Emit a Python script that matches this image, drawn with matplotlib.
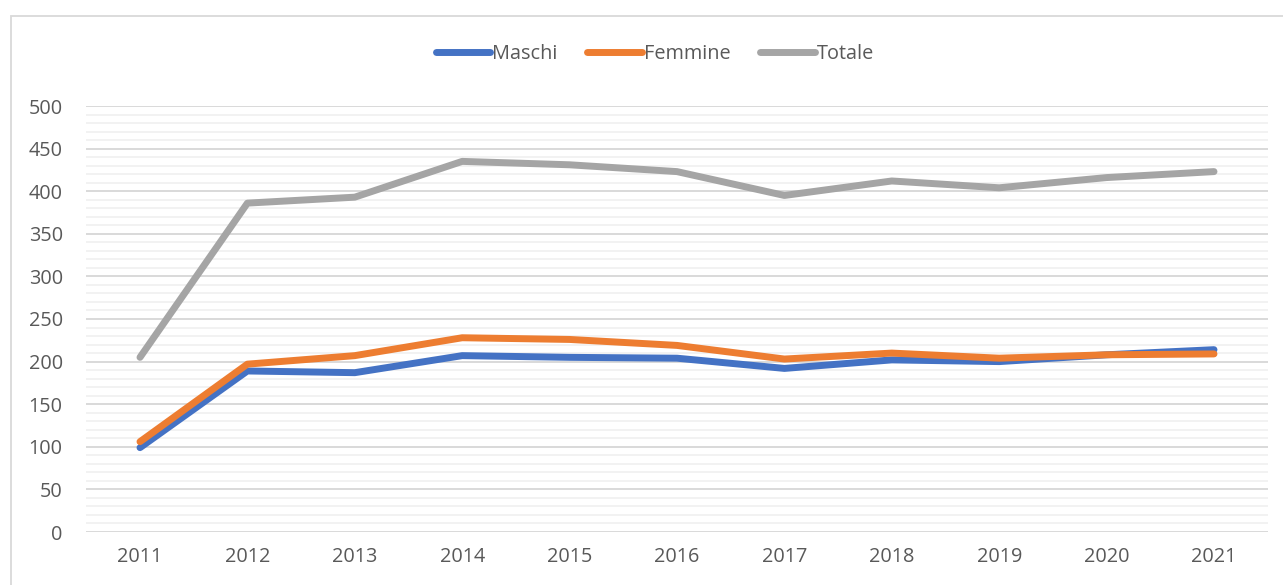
import matplotlib
matplotlib.use('Agg')
import matplotlib.pyplot as plt
from matplotlib.patches import Rectangle
from matplotlib.ticker import MultipleLocator

# data
anni = ['2011', '2012', '2013', '2014', '2015', '2016', '2017', '2018', '2019', '2020', '2021']
maschi = [99, 189, 187, 207, 205, 204, 192, 202, 200, 208, 214]
femmine = [106, 197, 207, 228, 226, 219, 203, 210, 204, 208, 209]
totale = [205, 386, 393, 435, 431, 423, 395, 412, 404, 416, 423]

plt.rcParams['font.family'] = ['Open Sans', 'DejaVu Sans']
text_col = '#595959'

W, H = 1283, 585
fig = plt.figure(figsize=(W / 100, H / 100), dpi=100)
ax = fig.add_axes([86.3 / W, (H - 532) / H, (1267.7 - 86.3) / W, 426 / H])

x = list(range(len(anni)))
lw = 5.0
ax.plot(x, maschi, color='#4472C4', lw=lw, solid_capstyle='round', solid_joinstyle='round', label='Maschi', zorder=3)
ax.plot(x, femmine, color='#ED7D31', lw=lw, solid_capstyle='round', solid_joinstyle='round', label='Femmine', zorder=4)
ax.plot(x, totale, color='#A5A5A5', lw=lw, solid_capstyle='round', solid_joinstyle='round', label='Totale', zorder=3)

ax.set_xlim(-0.5, len(anni) - 0.5)
ax.set_ylim(0, 500)
ax.set_xticks(x)
ax.set_xticklabels(anni)
ax.yaxis.set_major_locator(MultipleLocator(50))
ax.yaxis.set_minor_locator(MultipleLocator(10))
ax.grid(axis='y', which='major', color='#D9D9D9', lw=1.4)
ax.grid(axis='y', which='minor', color='#F2F2F2', lw=1.4)
ax.set_axisbelow(True)
for s in ax.spines.values():
    s.set_visible(False)
ax.tick_params(axis='both', which='both', length=0, labelsize=14.3, labelcolor=text_col)
ax.tick_params(axis='y', pad=17)
ax.tick_params(axis='x', pad=11)

leg = fig.legend(loc='center', bbox_to_anchor=(655 / W, 1 - 54 / H), ncol=3, frameon=False,
                 fontsize=14.3, handlelength=2.75, handletextpad=0.1, columnspacing=1.5)
for t in leg.get_texts():
    t.set_color(text_col)

# chart border (cut off on right and bottom)
fig.patches.append(Rectangle((10.5 / W, -0.1), 2, 1 - 15.5 / H + 0.1, transform=fig.transFigure,
                             fill=False, edgecolor='#D9D9D9', lw=1.3))

fig.savefig('out.png', dpi=100)
